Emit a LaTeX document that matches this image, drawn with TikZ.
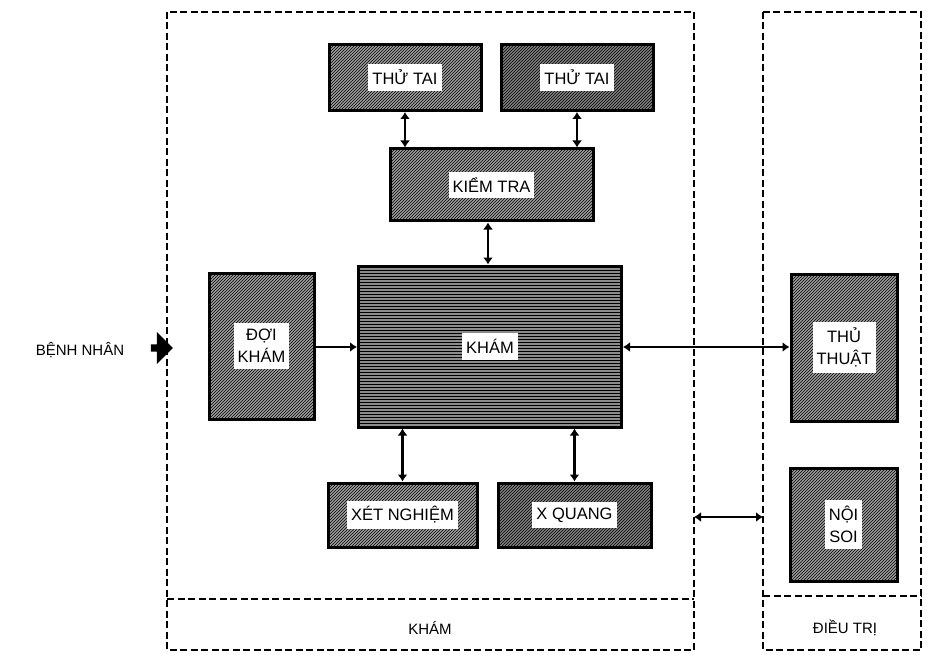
\documentclass[tikz,border=0pt]{standalone}
\usepackage{fontspec}
\setmainfont{Liberation Sans}
\usetikzlibrary{patterns,arrows.meta,shapes.arrows}
\begin{document}
\begin{tikzpicture}[x=1pt,y=-1pt,
  frame/.style={draw=black, line width=1.1pt, dash pattern=on 7pt off 3.5pt},
  hbox/.style={draw=black, line width=3pt, fill=gray!75, postaction={pattern=north east lines, pattern color=black}, inner sep=0pt},
  dbox/.style={draw=black, line width=3pt, fill=gray!100, postaction={pattern=north east lines, pattern color=black}, inner sep=0pt},
  kbox/.style={draw=black, line width=3pt, fill=gray!90, postaction={pattern=horizontal lines, pattern color=black}, inner sep=0pt},
  lbl/.style={fill=white, inner xsep=4pt, inner ysep=6pt, font=\fontsize{16.5}{22}\selectfont, align=center},
  plain/.style={font=\fontsize{15}{17}\selectfont},
  conn/.style={draw=black, line width=2.6pt, {Latex[length=7pt,width=10pt]}-{Latex[length=7pt,width=10pt]}}
]
\useasboundingbox (0,0) rectangle (926,655);
% frames
\draw[frame] (167,12) rectangle (694,650);
\draw[frame] (167,599) -- (694,599);
\draw[frame] (763,12) rectangle (921,650);
\draw[frame] (763,596) -- (921,596);
\node[plain] (khamfoot) at (430,628) {KHÁM};
\node[plain] (dieutri) at (845,628) {ĐIỀU TRỊ};
% boxes
\node[hbox, minimum width=152pt, minimum height=66pt] (tt1) at (405,77.5) {};
\node[lbl] (tt1l) at (tt1) {THỬ TAI};
\node[dbox, minimum width=152pt, minimum height=66pt] (tt2) at (577,77.5) {};
\node[lbl] (tt2l) at (tt2) {THỬ TAI};
\node[hbox, minimum width=203pt, minimum height=72pt] (kt) at (491.5,185) {};
\node[lbl] (ktl) at (kt) {KIỂM TRA};
\node[kbox, minimum width=263pt, minimum height=161pt] (kham) at (490,346.5) {};
\node[lbl] (khaml) at (kham) {KHÁM};
\node[hbox, minimum width=105pt, minimum height=146pt] (dk) at (261.5,346) {};
\node[lbl] (dkl) at (dk) {ĐỢI\\KHÁM};
\node[hbox, minimum width=149pt, minimum height=64pt] (xn) at (402.5,515) {};
\node[lbl] (xnl) at (xn) {XÉT NGHIỆM};
\node[dbox, minimum width=153pt, minimum height=64pt] (xq) at (574.5,515) {};
\node[lbl] (xql) at (xq) {X QUANG};
\node[hbox, minimum width=106pt, minimum height=147pt] (thu) at (844,347.5) {};
\node[lbl] (thul) at (thu) {THỦ\\THUẬT};
\node[hbox, minimum width=107pt, minimum height=113pt] (ns) at (843.5,524.5) {};
\node[lbl] (nsl) at (ns) {NỘI\\SOI};
% patient
\node[plain] (bn) at (80,350) {BỆNH NHÂN};
\node[single arrow, fill=black, minimum height=22pt, minimum width=32pt, single arrow head extend=4pt, inner sep=1pt] (bnarrow) at (160,348) {};
% connectors
\draw[conn] (tt1.south) -- (tt1.south |- kt.north);
\draw[conn] (tt2.south) -- (tt2.south |- kt.north);
\draw[conn] (kt.south -| 488,0) -- (kham.north -| 488,0);
\draw[conn] (kham.south -| xn.north) -- (xn.north);
\draw[conn] (kham.south -| xq.north) -- (xq.north);
\draw[draw=black, line width=2.6pt, -{Latex[length=7pt,width=10pt]}] (dk.east |- 0,347) -- (kham.west |- 0,347);
\draw[conn] (kham.east |- 0,347) -- (thu.west |- 0,347);
\coordinate (fa) at (694,517);
\coordinate (fb) at (763,517);
\draw[conn] (fa) -- (fb);
\end{tikzpicture}
\end{document}
